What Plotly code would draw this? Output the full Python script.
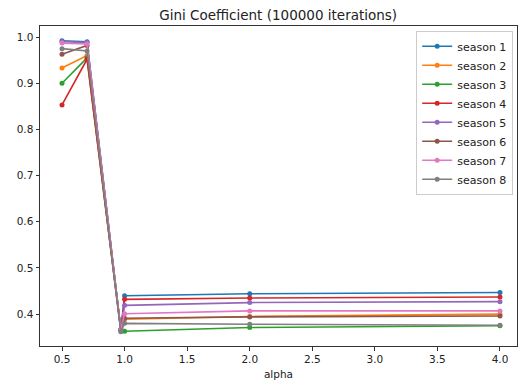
import plotly.graph_objects as go

alpha = [0.5, 0.7, 0.97, 1.0, 2.0, 4.0]
season1 = [0.992, 0.990, 0.366, 0.440, 0.444, 0.447]
season2 = [0.933, 0.960, 0.366, 0.389, 0.395, 0.400]
season3 = [0.900, 0.955, 0.364, 0.363, 0.371, 0.375]
season4 = [0.853, 0.952, 0.366, 0.432, 0.435, 0.437]
season5 = [0.990, 0.988, 0.366, 0.419, 0.425, 0.427]
season6 = [0.963, 0.982, 0.366, 0.391, 0.394, 0.396]
season7 = [0.987, 0.985, 0.366, 0.401, 0.407, 0.407]
season8 = [0.975, 0.970, 0.362, 0.380, 0.378, 0.376]

names = ["season 1", "season 2", "season 3", "season 4",
         "season 5", "season 6", "season 7", "season 8"]
series = [season1, season2, season3, season4, season5, season6, season7, season8]
colors = ["#1f77b4", "#ff7f0e", "#2ca02c", "#d62728",
          "#9467bd", "#8c564b", "#e377c2", "#7f7f7f"]

fig = go.Figure()
for n, s, c in zip(names, series, colors):
    fig.add_trace(go.Scatter(x=alpha, y=s, name=n, mode="lines+markers",
                             line=dict(color=c, width=1.6),
                             marker=dict(color=c, size=5)))

axis_common = dict(showline=True, linecolor="#333", linewidth=1, mirror=True,
                   ticks="outside", ticklen=3.5, tickcolor="#333",
                   showgrid=False, zeroline=False,
                   tickfont=dict(size=10.5, color="#222"))
fig.update_layout(
    width=520, height=383,
    margin=dict(l=40, r=3, t=26, b=37),
    paper_bgcolor="white", plot_bgcolor="white",
    font=dict(family="DejaVu Sans", color="#222"),
    title=dict(text="Gini Coefficient (100000 iterations)", x=0.535, xanchor="center",
               y=0.96, yanchor="middle", font=dict(size=13.5, color="#222")),
    xaxis=dict(range=[0.324, 4.136], tickvals=[0.5, 1.0, 1.5, 2.0, 2.5, 3.0, 3.5, 4.0],
               ticktext=["0.5", "1.0", "1.5", "2.0", "2.5", "3.0", "3.5", "4.0"],
               title=dict(text="alpha", font=dict(size=10.5), standoff=6), **axis_common),
    yaxis=dict(range=[0.331, 1.024], tickvals=[0.4, 0.5, 0.6, 0.7, 0.8, 0.9, 1.0],
               ticktext=["0.4", "0.5", "0.6", "0.7", "0.8", "0.9", "1.0"], **axis_common),
    legend=dict(x=0.992, y=0.985, xanchor="right", yanchor="top",
                bordercolor="#ccc", borderwidth=1, bgcolor="rgba(255,255,255,0.8)",
                font=dict(size=11, color="#222"), itemwidth=30, tracegroupgap=0),
    showlegend=True,
)
fig.write_html("out.html")
